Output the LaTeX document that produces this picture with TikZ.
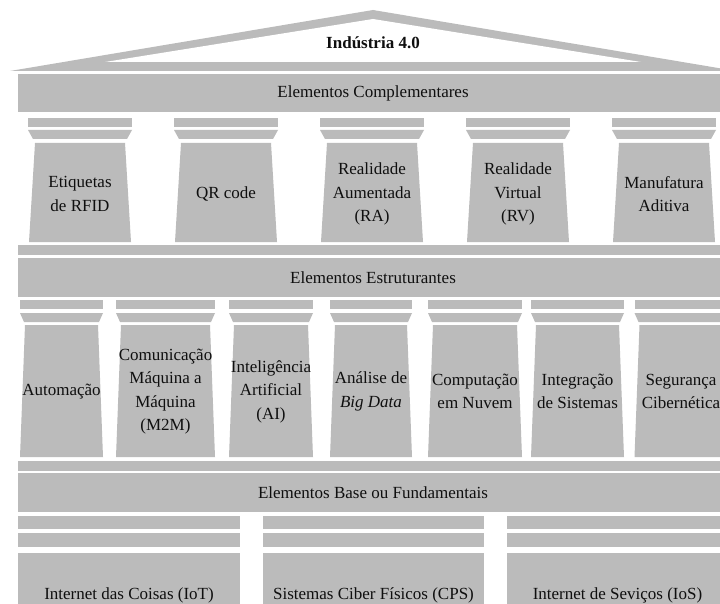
\documentclass[tikz,border=0pt]{standalone}
\usepackage{fontspec}
\setmainfont{Liberation Serif}
\definecolor{stone}{RGB}{187,187,187}
\definecolor{ink}{RGB}{15,15,15}
\tikzset{
  stone/.style={fill=stone, draw=none},
  caption/.style={text=ink, font=\fontsize{17}{23.5}\selectfont, align=center, inner sep=0pt},
}
\begin{document}
\begin{tikzpicture}[x=1pt, y=-1pt]
\useasboundingbox (0,0) rectangle (720,604);
\fill[white] (0,0) rectangle (720,604);
\clip (0,0) rectangle (720,604);

% roof
\fill[stone] (10,71) -- (373,10) -- (736,71) -- cycle;
\fill[white] (105,62) -- (373,19) -- (641,62) -- cycle;
\node[caption, font=\fontsize{17}{23.5}\selectfont\bfseries] (roof) at (373,43) {Indústria 4.0};

% entablature of the upper order
\fill[stone] (18,74) rectangle (728,112);
\node[caption] (compl) at (373,93) {Elementos Complementares};

% upper order of columns
\foreach \cx/\w/\nm/\txt in {
    80/52/rfid/{Etiquetas\\de RFID},
    226/52/qr/{QR code},
    372/52/ra/{Realidade\\Aumentada\\(RA)},
    518/52/rv/{Realidade\\Virtual\\(RV)},
    664/52/manuf/{Manufatura\\Aditiva}} {
  \fill[stone] (\cx-\w,118) rectangle (\cx+\w,127);
  \fill[stone] (\cx-\w,130) -- (\cx+\w,130) -- (\cx+\w-5,139) -- (\cx-\w+5,139) -- cycle;
  \fill[stone] (\cx-\w+7,143) -- (\cx+\w-7,143) -- (\cx+\w-1,242) -- (\cx-\w+1,242) -- cycle;
  \node[caption] (\nm) at (\cx,194) {\txt};
}

% stylobate of the upper order and middle entablature
\fill[stone] (18,245) rectangle (728,255);
\fill[stone] (18,258) rectangle (728,297);
\node[caption] (estr) at (373,277.5) {Elementos Estruturantes};

% lower order of columns
\foreach \cx/\w/\nm/\txt in {
    61.5/41.5/autom/{Automação},
    165.5/49.5/mtom/{Comunicação\\Máquina a\\Máquina\\(M2M)},
    271/42/ia/{Inteligência\\Artificial\\(AI)},
    371/41/bigdata/{Análise de\\\textit{Big Data}},
    475/47/nuvem/{Computação\\em Nuvem},
    577.5/46.5/integ/{Integração\\de Sistemas},
    681/46.5/seg/{Segurança\\Cibernética}} {
  \fill[stone] (\cx-\w,300) rectangle (\cx+\w,309);
  \fill[stone] (\cx-\w,313) -- (\cx+\w,313) -- (\cx+\w-4,322) -- (\cx-\w+4,322) -- cycle;
  \fill[stone] (\cx-\w+5,325) -- (\cx+\w-5,325) -- (\cx+\w,457) -- (\cx-\w,457) -- cycle;
  \node[caption] (\nm) at (\cx,391.5) {\txt};
}

% stylobate of the lower order and base entablature
\fill[stone] (18,461) rectangle (728,471);
\fill[stone] (18,473) rectangle (728,512);
\node[caption] (base) at (373,492.5) {Elementos Base ou Fundamentais};

% foundation blocks
\foreach \xa/\xb/\nm/\txt in {
    18/240/iot/{Internet das Coisas (IoT)},
    263/484/cps/{Sistemas Ciber Físicos (CPS)},
    507/728/ios/{Internet de Seviços (IoS)}} {
  \fill[stone] (\xa,516) rectangle (\xb,529);
  \fill[stone] (\xa,533) rectangle (\xb,547);
  \fill[stone] (\xa,553) rectangle (\xb,620);
  \node[caption] (\nm) at ({(\xa+\xb)/2},595) {\txt};
}
\end{tikzpicture}
\end{document}
